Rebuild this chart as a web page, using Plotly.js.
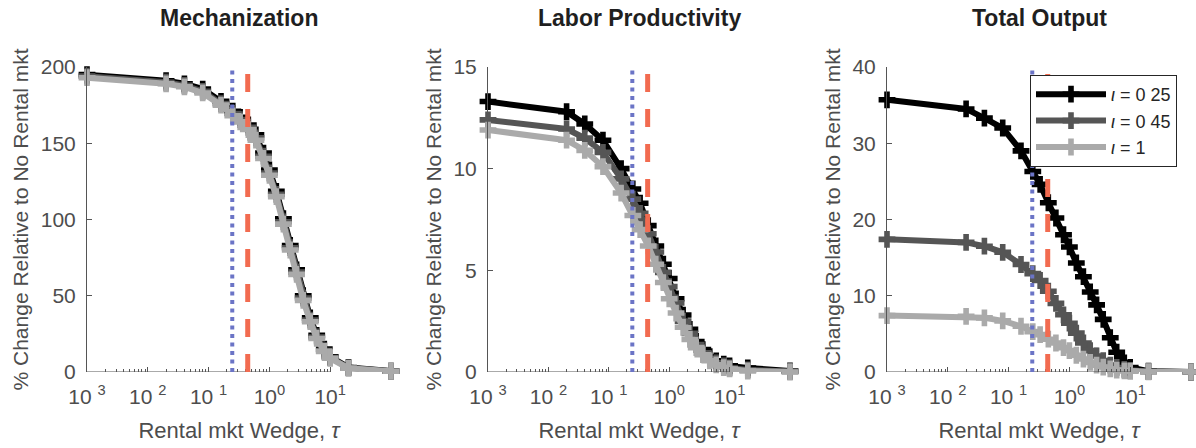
<!DOCTYPE html>
<html>
<head>
<meta charset="utf-8">
<script src="https://cdn.plot.ly/plotly-3.0.1.min.js"></script>
<style>html,body{margin:0;padding:0;background:#fff}#chart{width:1196px;height:448px}</style>
</head>
<body>
<div id="chart"></div>
<script>
// ---- data ----
const tau = [0.001, 0.02, 0.04, 0.08, 0.16, 0.25, 0.33, 0.45, 0.6, 0.8, 1.0, 1.3, 1.7, 2.2, 2.8, 3.6, 4.7, 6, 8, 10, 20, 100];

const seriesNames = ["<i>ι</i> = 0 25", "<i>ι</i> = 0 45", "<i>ι</i> = 1"];
const seriesColors = ["#000000", "#555555", "#aaaaaa"];

const mechI025 = [195, 191, 189, 185.5, 177.5, 171, 167, 162, 155.5, 143.5, 132.5, 118.5, 100.5, 83, 67, 50, 35.5, 24, 15, 10, 3, 0.6];
const mechI045 = [194, 190, 188, 184, 176, 169.5, 165.5, 160.5, 153.5, 141.5, 130.5, 116.5, 98.5, 81.5, 65.5, 48.5, 34, 23, 14, 9.5, 2.7, 0.55];
const mechI1   = [193, 189, 187, 183, 175, 168, 164, 159, 152, 140, 129, 115, 97, 80, 64, 47, 33, 22, 13.5, 9, 2.5, 0.5];

const labI025 = [13.3, 12.8, 12.2, 11.4, 10.0, 9.0, 8.3, 7.2, 6.2, 5.3, 4.6, 3.6, 2.8, 2.1, 1.5, 1.1, 0.75, 0.55, 0.38, 0.3, 0.2, 0.05];
const labI045 = [12.4, 11.95, 11.5, 10.8, 9.5, 8.5, 7.8, 6.8, 5.9, 4.9, 4.2, 3.4, 2.5, 1.9, 1.35, 0.95, 0.65, 0.45, 0.3, 0.2, 0.1, 0.03];
const labI1   = [11.9, 11.4, 10.9, 10.1, 8.8, 7.7, 7.0, 6.2, 5.3, 4.4, 3.6, 2.9, 2.2, 1.6, 1.2, 0.85, 0.55, 0.35, 0.22, 0.15, 0.05, 0];

const outI025 = [35.7, 34.5, 33.3, 32.0, 29.0, 26.3, 24.6, 22.2, 20.2, 18.0, 16.4, 14.3, 12.5, 10.5, 8.8, 6.9, 4.5, 2.6, 1.2, 0.6, 0.1, 0];
const outI045 = [17.4, 17.0, 16.5, 15.7, 14.1, 12.9, 12.0, 10.6, 9.0, 7.5, 6.4, 5.1, 3.8, 2.8, 2.1, 1.5, 0.9, 0.6, 0.35, 0.2, 0.05, 0];
const outI1   = [7.4, 7.3, 7.1, 6.7, 6.0, 5.3, 4.9, 4.3, 3.8, 3.2, 2.8, 2.2, 1.7, 1.25, 0.9, 0.65, 0.4, 0.25, 0.15, 0.1, 0.03, 0];

const panelTitles = ["Mechanization", "Labor Productivity", "Total Output"];
const panelYMax = [200, 15, 40];
const panelYTicks = [[0, 50, 100, 150, 200], [0, 5, 10, 15], [0, 10, 20, 30, 40]];
const xTickVals = [0.001, 0.01, 0.1, 1, 10];
const xTickText = ["10 <sup>3</sup>", "10 <sup>2</sup>", "10 <sup>1</sup>", "10<sup>0</sup>", "10<sup>1</sup>"];
const xAxisEnd = 10;
const tauBlue = 0.245;   // dotted reference line
const tauRed = 0.44;     // dashed reference line

const panelData = [[mechI025, mechI045, mechI1], [labI025, labI045, labI1], [outI025, outI045, outI1]];

// ---- build ----
const W = 1196, H = 448;
const xDomPx = [[87, 391], [488, 790], [887, 1191]];
const yDom = [(H - 372) / H, (H - 67) / H];
const axisGray = "#555555";
const textGray = "#4d4d4d";
const font = "Liberation Sans, Arial, Helvetica, sans-serif";

const minorVals = [];
for (let d = -3; d < 1; d++) for (let m = 2; m <= 9; m++) minorVals.push(m * Math.pow(10, d));

const traces = [];
const layout = {
  width: W, height: H,
  margin: {l: 0, r: 0, t: 0, b: 0},
  paper_bgcolor: "#ffffff", plot_bgcolor: "rgba(0,0,0,0)",
  font: {family: font, color: textGray, size: 21},
  showlegend: true,
  legend: {
    x: 1030 / W, y: 1 - 75 / H, xanchor: "left", yanchor: "top",
    bgcolor: "#ffffff", bordercolor: "#262626", borderwidth: 1,
    font: {family: font, size: 18, color: "#262626"},
    itemwidth: 70, tracegroupgap: 0
  },
  shapes: [], annotations: []
};

for (let p = 0; p < 3; p++) {
  const xa = p === 0 ? "x" : "x" + (p + 1);
  const ya = p === 0 ? "y" : "y" + (p + 1);
  const xk = p === 0 ? "xaxis" : "xaxis" + (p + 1);
  const yk = p === 0 ? "yaxis" : "yaxis" + (p + 1);
  layout[xk] = {
    type: "log", range: [-3, 2], domain: [xDomPx[p][0] / W, xDomPx[p][1] / W],
    anchor: ya, showgrid: false, zeroline: false, showline: false,
    tickmode: "array", tickvals: xTickVals, ticktext: xTickText,
    ticks: "inside", ticklen: 5, tickcolor: axisGray, tickwidth: 1,
    tickfont: {size: 21, color: textGray}, ticklabelstandoff: 10,
    minor: {tickmode: "array", tickvals: minorVals, ticks: "inside", ticklen: 3, tickcolor: axisGray, showgrid: false},
    title: {text: "Rental mkt Wedge, <i>τ</i>", font: {size: 22, color: textGray}, standoff: 15},
    fixedrange: true
  };
  layout[yk] = {
    range: [0, panelYMax[p]], domain: yDom, anchor: xa,
    showgrid: false, zeroline: false, showline: true, linecolor: axisGray, linewidth: 1,
    tickmode: "array", tickvals: panelYTicks[p],
    ticks: "inside", ticklen: 5, tickcolor: axisGray,
    tickfont: {size: 21, color: textGray}, ticklabelstandoff: 6,
    title: {text: "% Change Relative to No Rental mkt", font: {size: 21, color: textGray}, standoff: 6},
    fixedrange: true
  };
  for (let s = 0; s < 3; s++) {
    traces.push({
      type: "scatter", mode: "lines+markers", x: tau, y: panelData[p][s],
      xaxis: xa, yaxis: ya, name: seriesNames[s], legendgroup: "s" + s,
      showlegend: p === 2, cliponaxis: false,
      line: {color: seriesColors[s], width: 6},
      marker: {symbol: "cross", size: 14, color: seriesColors[s]}
    });
  }
  // x axis line only up to 10^1
  layout.shapes.push({type: "line", xref: xa, yref: ya, x0: tau[0], x1: xAxisEnd, y0: 0, y1: 0,
    line: {color: axisGray, width: 1}, layer: "above"});
  layout.shapes.push({type: "line", xref: xa, yref: ya, x0: tauBlue, x1: tauBlue, y0: 0, y1: panelYMax[p],
    line: {color: "#6b74c6", width: 4, dash: "4px,4.5px"}, layer: "above"});
  layout.shapes.push({type: "line", xref: xa, yref: ya, x0: tauRed, x1: tauRed, y0: 0, y1: panelYMax[p] * 0.985,
    line: {color: "#f26b50", width: 5, dash: "18px,17px"}, layer: "above"});
  layout.annotations.push({
    text: "<b>" + panelTitles[p] + "</b>", xref: "paper", yref: "paper",
    x: (xDomPx[p][0] + xDomPx[p][1]) / 2 / W, y: 1 - 18 / H, xanchor: "center", yanchor: "middle",
    showarrow: false, font: {size: 23, color: "#1f1f1f", family: font}
  });
}

Plotly.newPlot("chart", traces, layout, {staticPlot: true, displayModeBar: false});
</script>
</body>
</html>
